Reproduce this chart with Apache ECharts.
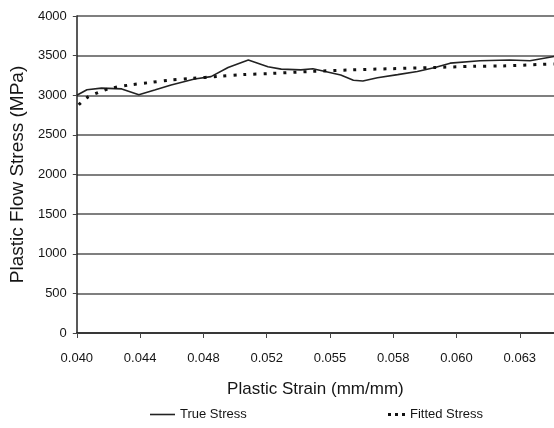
<!DOCTYPE html>
<html>
<head>
<meta charset="utf-8">
<script src="https://cdn.jsdelivr.net/npm/echarts@6/dist/echarts.min.js"></script>
<style>
  html, body { margin: 0; padding: 0; background: #fff; }
  #chart { width: 554px; height: 428px; }
</style>
</head>
<body>
<div id="chart"></div>
<script>
// tick labels on the strain axis (one per tick unit)
const strainLabels = ['0.040', '0.044', '0.048', '0.052', '0.055', '0.058', '0.060', '0.063']

// position along the strain axis in tick units, and stress in MPa
const truePos = [0, 0.16, 0.39, 0.71, 0.98, 1.23, 1.49, 1.86, 2.12, 2.39, 2.71, 3.02, 3.23, 3.54, 3.73, 3.89,
  4.17, 4.37, 4.52, 4.75, 5.07, 5.38, 5.66, 5.90, 6.37, 6.84, 7.16, 7.54]
const trueStress = [3000, 3070, 3090, 3080, 3005, 3065, 3130, 3205, 3235, 3350, 3445, 3360, 3330, 3320, 3335, 3305,
  3255, 3190, 3180, 3220, 3260, 3300, 3350, 3405, 3435, 3445, 3435, 3490]

const fitPos = [0.03, 0.16, 0.34, 0.52, 0.84, 1.15, 1.46, 1.79, 2.26, 2.62, 3.07, 3.70, 4.33, 4.96, 5.63, 6.26, 6.73, 7.36, 7.54]
const fitStress = [2880, 2970, 3035, 3085, 3130, 3160, 3190, 3210, 3240, 3260, 3275, 3300, 3320, 3335, 3350, 3365, 3370, 3390, 3395]

const pair = (xs, ys) => xs.map((x, i) => [x, ys[i]])

const chart = echarts.init(document.getElementById('chart'))
const font = 'Liberation Sans'
const ink = '#151515'

chart.setOption({
  backgroundColor: '#fff',
  animation: false,
  textStyle: { fontFamily: font, color: ink },
  grid: { left: 75, right: 0, top: 16, bottom: 95 },
  legend: [
    {
      data: [{ name: 'True Stress', icon: 'rect' }], left: 145, top: 403,
      itemWidth: 25, itemHeight: 1.6, itemGap: 4,
      textStyle: { fontFamily: font, fontSize: 13, color: ink }
    },
    {
      data: [{ name: 'Fitted Stress', icon: 'path://M0,0h3v3h-3z M7,0h3v3h-3z M14,0h3v3h-3z' }],
      left: 383, top: 403,
      itemWidth: 17, itemHeight: 3, itemGap: 4,
      textStyle: { fontFamily: font, fontSize: 13, color: ink }
    }
  ],
  xAxis: {
    type: 'value',
    min: 0,
    max: 7.54,
    interval: 1,
    name: 'Plastic Strain (mm/mm)',
    nameLocation: 'middle',
    nameGap: 48,
    nameTextStyle: { fontFamily: font, fontSize: 17, color: ink },
    axisLine: { lineStyle: { color: '#222', width: 1.5 } },
    axisTick: { show: true, length: 5, lineStyle: { color: '#444' } },
    axisLabel: {
      margin: 19,
      fontFamily: font, fontSize: 13, color: ink,
      showMaxLabel: false,
      formatter: v => (Number.isInteger(v) && strainLabels[v]) || ''
    },
    splitLine: { show: false }
  },
  yAxis: {
    type: 'value',
    min: 0,
    max: 4000,
    interval: 500,
    name: 'Plastic Flow Stress (MPa)',
    nameLocation: 'middle',
    nameGap: 44,
    nameTextStyle: { fontFamily: font, fontSize: 19, color: ink },
    axisLine: { show: true, lineStyle: { color: '#222', width: 1.5 } },
    axisTick: { show: true, length: 4, lineStyle: { color: '#444' } },
    axisLabel: { margin: 10, fontFamily: font, fontSize: 13, color: ink, formatter: v => String(v) },
    splitLine: { show: true, lineStyle: { color: '#555', width: 1.5 } }
  },
  series: [
    {
      name: 'True Stress',
      type: 'line',
      data: pair(truePos, trueStress),
      symbol: 'none',
      lineStyle: { color: '#222', width: 1.6 },
      itemStyle: { color: '#222' }
    },
    {
      name: 'Fitted Stress',
      type: 'line',
      data: pair(fitPos, fitStress),
      symbol: 'none',
      smooth: 0.3,
      lineStyle: { color: '#111', width: 3, type: [3, 7] },
      itemStyle: { color: '#111' }
    }
  ]
})
</script>
</body>
</html>
